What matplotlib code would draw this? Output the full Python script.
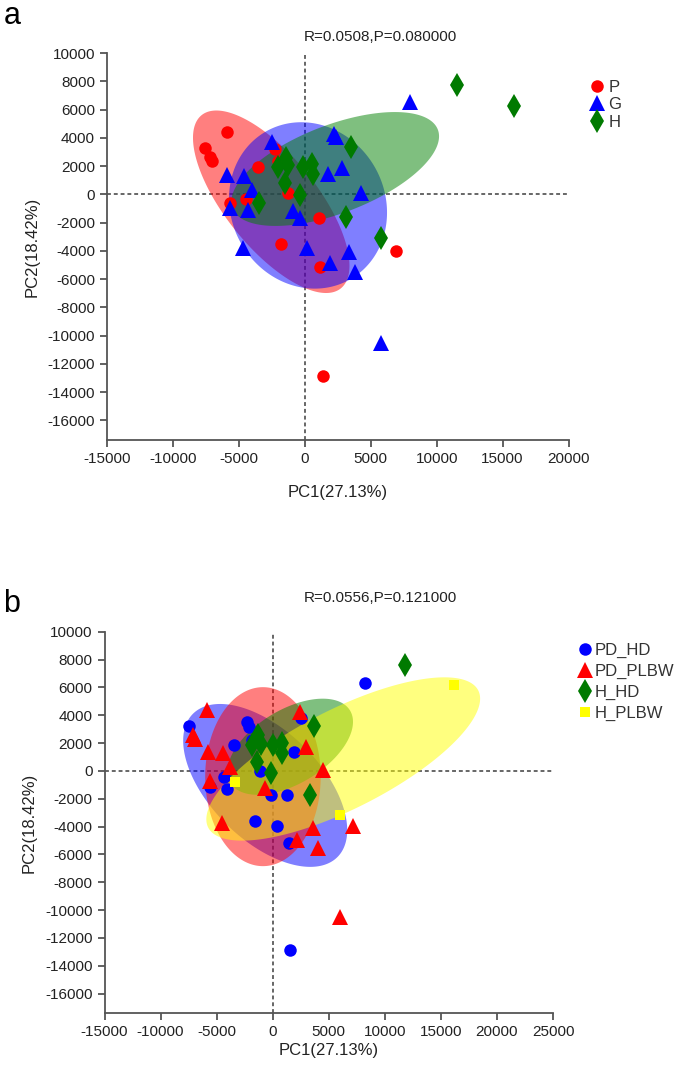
import numpy as np
import matplotlib
matplotlib.use("Agg")
import matplotlib.pyplot as plt

plt.rcParams["font.family"] = ["Liberation Sans", "DejaVu Sans"]
plt.rcParams["axes.unicode_minus"] = False

# ---- panel a: groups P / G / H ----
a_labels = ["P", "G", "H"]
p_x = [-5930, -7580, -7200, -7020, -2270, -2020, -3540, -1260, -5680, -4470, 1090, -1770, 1190, 6890, 1390]
p_y = [4380, 3310, 2650, 2360, 3240, 2360, 1960, 70, -640, -350, -1700, -3500, -5150, -4020, -12880]
g_x = [-2450, 2220, 2350, -5860, -4600, -3960, -5680, -4300, 1770, 2830, 4240, -880, -330, -4670, 180,
       3360, 1940, 3840, 8000, 5810]
g_y = [3670, 4260, 4020, 1370, 1300, 310, -950, -1130, 1470, 1840, 120, -1180, -1650, -3780, -3830,
       -4070, -4890, -5510, 6500, -10520]
h_x = [3540, -1390, -2020, -1260, -130, 580, 630, -1520, -330, -3480, 3160, 5810, 11570, 15860]
h_y = [3360, 2600, 1960, 2060, 1960, 2130, 1470, 780, -70, -640, -1610, -3120, 7730, 6220]

# ellipses: centre x, centre y, first half-axis (x, y), second half-axis (x, y)
a_ellipses = [
    (-2540, -530, -5280, 6130, 2700, 2040),
    (250, -790, 3220, -5220, 5050, 2730),
    (2310, 1790, 7780, 2790, 1200, -2910),
]
a_title = "R=0.0508,P=0.080000"

# ---- panel b: groups PD_HD / PD_PLBW / H_HD / H_PLBW ----
b_labels = ["PD_HD", "PD_PLBW", "H_HD", "H_PLBW"]
pdhd_x = [-7430, -2300, -2100, -3410, -1860, 2520, 1920, -1120, -4300, -5580, -4090, -160, 1270, -1620,
          370, 1410, 8230, 1560]
pdhd_y = [3240, 3520, 3160, 1900, 2210, 3830, 1330, 0, -400, -1120, -1290, -1760, -1760, -3570,
          -3930, -5210, 6310, -12900]
pdplbw_x = [-5820, -7130, -6920, -5730, -4450, -3850, -5580, 2460, 2990, 4450, -730, -4540, 3590, 2160,
            4030, 7130, 6030]
pdplbw_y = [4360, 2570, 2330, 1330, 1260, 310, -690, 4240, 1740, 70, -1240, -3740, -4100, -4930,
            -5570, -3980, -10520]
hhd_x = [3710, -1270, -1860, -1050, 70, 820, 820, -1360, -160, 3350, 11830]
hhd_y = [3240, 2570, 1860, 1930, 1900, 2020, 1310, 670, -170, -1710, 7640]
hplbw_x = [-3350, 6030, 16140]
hplbw_y = [-760, -3190, 6140]

b_ellipses = [
    (-670, -1040, 6440, -5150, 3470, 2780),
    (-870, -410, 0, 6430, 5150, 0),
    (1560, 1740, 5330, 2610, 1720, -2260),
    (6290, 860, 12040, 4930, 2030, -3180),
]
b_title = "R=0.0556,P=0.121000"


def draw_ellipse(ax, e, color):
    t = np.linspace(0, 2 * np.pi, 300)
    cx, cy, ux, uy, vx, vy = e
    xs = cx + ux * np.cos(t) + vx * np.sin(t)
    ys = cy + uy * np.cos(t) + vy * np.sin(t)
    ax.fill(xs, ys, color=color, alpha=0.5, lw=0, zorder=2)


def style_axes(ax, xmax, xpad):
    ax.set_xlim(-15000, xmax)
    ax.set_ylim(-17400, 10000)
    ax.set_xticks(np.arange(-15000, xmax + 1, 5000))
    ax.set_yticks(np.arange(-16000, 10001, 2000))
    for s in ["top", "right"]:
        ax.spines[s].set_visible(False)
    for s in ["left", "bottom"]:
        ax.spines[s].set_color("#555555")
        ax.spines[s].set_linewidth(1.3)
    ax.tick_params(direction="out", length=5, width=1.3, color="#555555",
                   labelsize=11, labelcolor="#222222")
    ax.axhline(0, color="#666666", ls=(0, (2, 1.5)), lw=1.4, zorder=1)
    ax.axvline(0, color="#666666", ls=(0, (2, 1.5)), lw=1.4, zorder=1)
    ax.set_xlabel("PC1(27.13%)", fontsize=12, color="#222222", labelpad=xpad)
    ax.set_ylabel("PC2(18.42%)", fontsize=12, color="#222222", labelpad=6)


fig = plt.figure(figsize=(6.85, 10.67), dpi=100)

# panel a
ax1 = fig.add_axes([0.156, 0.5876, 0.674, 0.3627])
style_axes(ax1, 20000, 14)
for e, c in zip(a_ellipses, ["#ff0000", "#0000ff", "#008000"]):
    draw_ellipse(ax1, e, c)
ax1.plot(p_x, p_y, "o", color="#ff0000", ms=9, mew=0, label=a_labels[0], zorder=3)
ax1.plot(g_x, g_y, "^", color="#0000ff", ms=11, mew=0, label=a_labels[1], zorder=3)
ax1.plot(h_x, h_y, "d", color="#007a00", ms=12, mew=0, label=a_labels[2], zorder=3)
ax1.legend(loc="upper left", bbox_to_anchor=(0.849, 0.933), bbox_transform=fig.transFigure,
           frameon=False, fontsize=12, handlelength=0.8, handletextpad=0.3, labelspacing=0.15,
           borderpad=0, labelcolor="#333333")
fig.text(0.555, 0.965, a_title, ha="center", va="center", fontsize=11, color="#222222")
fig.text(0.005, 0.985, "a", ha="left", va="center", fontsize=22)

# panel b
ax2 = fig.add_axes([0.1526, 0.0505, 0.6547, 0.3574])
style_axes(ax2, 25000, 3)
for e, c in zip(b_ellipses, ["#0000ff", "#ff0000", "#008000", "#ffff00"]):
    draw_ellipse(ax2, e, c)
ax2.plot(pdhd_x, pdhd_y, "o", color="#0000ff", ms=9, mew=0, label=b_labels[0], zorder=3)
ax2.plot(pdplbw_x, pdplbw_y, "^", color="#ff0000", ms=11, mew=0, label=b_labels[1], zorder=3)
ax2.plot(hhd_x, hhd_y, "d", color="#007a00", ms=12, mew=0, label=b_labels[2], zorder=3)
ax2.plot(hplbw_x, hplbw_y, "s", color="#ffff00", ms=7, mew=0, label=b_labels[3], zorder=3)
ax2.legend(loc="upper left", bbox_to_anchor=(0.832, 0.405), bbox_transform=fig.transFigure,
           frameon=False, fontsize=12, handlelength=0.8, handletextpad=0.2, labelspacing=0.35,
           borderpad=0, labelcolor="#333333")
fig.text(0.555, 0.44, b_title, ha="center", va="center", fontsize=11, color="#222222")
fig.text(0.005, 0.434, "b", ha="left", va="center", fontsize=22)

fig.savefig("out.png", dpi=100)
